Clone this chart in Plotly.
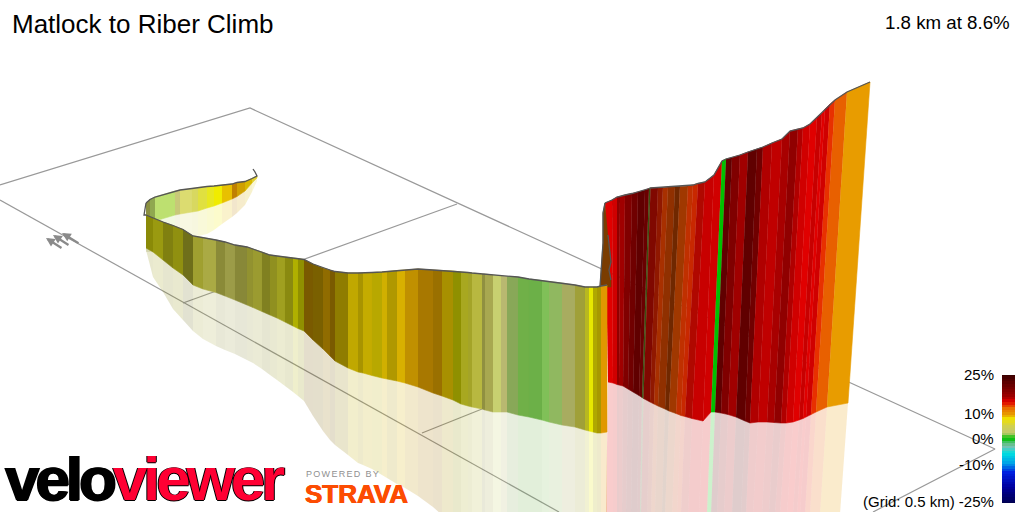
import plotly.graph_objects as go

TITLE = "Matlock to Riber Climb"
SUMMARY = "1.8 km at 8.6%"

# far section of the climb
a_x = [146,150,155,175,180,192,198,207,214,222,232,237,245,252,257]
a_top = [203,199.5,197,191,190,188.5,187.5,186.5,186,185,184,182.5,181.5,178.5,176]
a_base = [222,222,221,215,214,212,211,208,206,203,199,196.5,191,183,178]
a_ref = [252,252,250,241,240,238,236,234,230,224,217,213,205,192,181]
a_col = ["#8a9040","#90a850","#bde070","#c8c878","#dcdc70","#d8d860","#e0e040","#e8e820",
         "#f0ec00","#e8c000","#c08000","#d0a000","#d8b800","#e0d030"]
spur_x = [253,255,257]
spur_y = [169,172,176]

# near section
b_x = [146,153,163,173,183,193,203,216,225,235,247,253,262,270,277,285,293,298,304,313,323,330,335,348,358,363,372,382,387,397,405,418,433,442,453,461,468,472,482,485,493,501,507,518,529,542,549,562,575,585,589,593,597,601,607]
b_top = [215,218,222,225.5,229.5,236,237.5,240,242,245,247,249,252,255,256,257,258,258.5,259.5,264,268,270,271.5,273,273,273,272.5,272,271.5,270.5,270,269,270,270.5,271,272,272.5,273,274,274,275,276,276.5,277,279,280.5,281.5,283,285,287,287,287,287,286,285]
b_base = [248,252,260,268,275,285,289,292.5,296,300,305,307.5,311.5,315,318,322,326,328.5,331,340,349,356,361,368,372,373,375.5,378,379,381,383,387,393,396,400,404,406,407,409,410,412,412,412,415,417,420,422,425,427,430,431,432,433,433,432]
b_ref = [250,277,292,309,320,331,339,346,350,354,360,363,369,375,380,386,392,396,401,416,431,440,445,455,463,465,469,475,478,484,488,496,507,515,525,530,530,530,530,530,530,530,530,530,530,530,530,530,530,530,530,530,530,530,530]
b_col = ["#8a8a08","#9a9a10","#808010","#909010","#6f6f1a","#a0a030","#aaaa44","#8a8a38","#9c9c48","#888838",
         "#929230","#9b9b30","#808020","#909020","#a0a020","#8a8a10","#b0b000","#909000","#7a5a00","#7a6000",
         "#906c00","#7a5a00","#8f7c00","#c0a800","#a89400","#c4ac00","#b8a800","#d0b000","#b09800","#d8b000",
         "#c09000","#a87800","#9a7000","#a89000","#8f9000","#a8a820","#a4a428","#b8b840","#909040","#a8a850",
         "#c8d070","#b8b870","#88a858","#70b048","#6cb048","#80c058","#90b860","#a8ac60","#a0a038","#b8b820",
         "#e8e800","#b0a800","#a89800","#e09800"]

# steep section
c_x_top = [605,612,617,620,625,632,638,645,649,650.5,658,663,668,675,680,688,693,698,705,714,722,726,732,740,748,757,763,772,782,790,798,803,810,817,822,825,830,835,847,870]
c_top = [203,200,197,196.5,195,193.5,192,190,188.5,188,187.5,187.5,187,186.5,186.5,186,185,183.5,182,175,161,159,157.5,155,152,149,147,143,139,131,129,128,124,117,113,109,104,100,92,82]
c_x_base = [608,613,617,619,623,628,633,639,642,643.5,650,654,658,665,669,676,681,685,692,703,711,715,721,728,736,745,750,758,767,774,781,786,793,799,803,806,811,816,827,848]
c_base = [382,383,384.5,385,386,389,392,395.5,397.5,398.5,402,404,406,409,411,413.5,415.5,416.5,418.5,421,412,412,413,414.5,417,421,423,422,422,422.5,423,423,422,420,418.5,417,414.5,412,407,403]
c_x_ref = [606,613,617,619,622,626,631,637,640,641,647,651,655,662,665,672,677,681,688,699,707,711,717,724,732,741,746,753,762,769,775,780,787,793,797,800,805,810,820,840]
c_col = ["#e00000","#d00000","#900000","#a00000","#800000","#700000","#600000","#6a0000","#3c5010","#800800",
         "#901800","#a83000","#903000","#702800","#a03800","#c03000","#c82800","#b00800","#c80000","#d00000",
         "#00c000","#600000","#800000","#a00000","#600000","#700000","#b00000","#c00000","#a80000","#900000",
         "#b00000","#d00000","#e00000","#c80000","#e00000","#d00000","#e83000","#e86000","#e89c00"]
sliver_x = [605,603,603,600,611,611,609,611,608]
sliver_y = [203,213,243,287,287,280,270,262,235]

# plan grid
grid_x = [[0,250,995,873],[0,559],[183,457],[422,482]]
grid_y = [[185,108,449,512],[200,512],[303,204],[433,409]]

# gradient key
key_ticks = [25,10,0,-10,-25]
key_vals = [-25,-18.5,-13,-9.4,-5.5,-2.7,-1,0.3,2.3,5,8,9.4,12,14.6,16.5,20.5,25]
key_cols = ["#000050","#0000a0","#0020e0","#00a0e8","#00e0e0","#80c0b0","#40c060","#00c000","#c0c870",
            "#d0d050","#f0e000","#e8a000","#e87000","#e00000","#a00000","#700000","#3a0000"]
key_steps = list(range(-25,26))

fig = go.Figure()

def poly(xs, ys, color, opacity=1.0, seam=True):
    fig.add_trace(go.Scatter(x=xs, y=ys, mode="lines", fill="toself", fillcolor=color, opacity=opacity,
                             line=dict(color=color, width=0.6 if seam else 0), hoverinfo="skip", showlegend=False))

for gx, gy in zip(grid_x, grid_y):
    fig.add_trace(go.Scatter(x=gx, y=gy, mode="lines", line=dict(color="#999999", width=1.2),
                             hoverinfo="skip", showlegend=False))

def wall(xt, yt, xb, yb, xr, yr, cols):
    for i, c in enumerate(cols):
        poly([xb[i],xb[i+1],xr[i+1],xr[i]], [yb[i],yb[i+1],yr[i+1],yr[i]], c, 0.2, False)
    for i, c in enumerate(cols):
        poly([xt[i],xt[i+1],xb[i+1],xb[i]], [yt[i],yt[i+1],yb[i+1],yb[i]], c)

def outline(xs, ys):
    fig.add_trace(go.Scatter(x=xs, y=ys, mode="lines", line=dict(color="#555555", width=1.3),
                             hoverinfo="skip", showlegend=False))

wall(a_x, a_top, a_x, a_base, a_x, a_ref, a_col)
outline(a_x + spur_x[::-1], a_top + spur_y[::-1])
wall(c_x_top, c_top, c_x_base, c_base, c_x_ref, [514]*len(c_x_ref), c_col)
poly(sliver_x, sliver_y, "#7a3c00")
outline(c_x_top, c_top)
outline(sliver_x[:4], sliver_y[:4])
outline(sliver_x[5:], sliver_y[5:])
wall(b_x, b_top, b_x, b_base, b_x, b_ref, b_col)
outline(b_x, b_top)
outline([146,144,146], [203,215,215])

# gradient key as a heatmap on its own axes
span = key_vals[-1] - key_vals[0]
fig.add_trace(go.Heatmap(x=[0], y=key_steps, z=[[v] for v in key_steps], xaxis="x2", yaxis="y2",
                         colorscale=[[(v-key_vals[0])/span, c] for v, c in zip(key_vals, key_cols)],
                         zmin=-25, zmax=25, showscale=False, hoverinfo="skip"))

ann = []
def text(x, y, s, size, color="#000000", anchor="left", family="Liberation Sans", weight=None, shadow=None):
    f = dict(family=family, size=size, color=color)
    if weight: f["weight"] = weight
    if shadow: f["shadow"] = shadow
    ann.append(dict(x=x, y=y, xref="x", yref="y", text=s, showarrow=False, xanchor=anchor, yanchor="middle",
                    font=f, borderpad=0))

text(11, 24, TITLE, 26)
text(1011, 22, SUMMARY, 18.7, anchor="right")
for t, y in zip(key_ticks, [374, 413, 438, 464, 501]):
    label = f"{t}%"
    if t == -25:
        label = "(Grid: 0.5 km) -25%"
    text(995, y, label, 15, anchor="right")

logo_shadow = "1px 0 0 currentColor, -1px 0 0 currentColor, 0 0.7px 0 currentColor"
text(4, 478,
     '<span style="color:#000000;letter-spacing:-4.1px">velo</span>'
     '<span style="color:#ff0033;letter-spacing:-4.1px">viewer</span>',
     62, weight=700, shadow=logo_shadow)
text(305, 474, '<span style="letter-spacing:1.3px">POWERED BY</span>', 9, "#909090")
text(304, 494, "STRAVA", 26, "#fc4c02", weight=700, shadow="0.5px 0 0 #fc4c02, -0.5px 0 0 #fc4c02")

for (x0,y0,x1,y1) in [(46,238,63,249),(53,235,70,246),(62,233,80,244)]:
    ann.append(dict(x=x0, y=y0, ax=x1, ay=y1, xref="x", yref="y", axref="x", ayref="y", text="",
                    showarrow=True, arrowhead=2, arrowsize=0.8, arrowwidth=2.2, arrowcolor="#8a8a8a"))

fig.update_layout(width=1024, height=512, autosize=False, margin=dict(l=0,r=0,t=0,b=0),
    paper_bgcolor="#ffffff", plot_bgcolor="#ffffff", showlegend=False, annotations=ann,
    xaxis=dict(range=[0,1024], visible=False, fixedrange=True),
    yaxis=dict(range=[512,0], visible=False, fixedrange=True),
    xaxis2=dict(domain=[1002/1024,1015/1024], anchor="y2", visible=False, fixedrange=True),
    yaxis2=dict(domain=[9/512,137/512], anchor="x2", range=[-25,25], visible=False, fixedrange=True))

fig.write_html("out.html", config=dict(displayModeBar=False),
    post_script="document.body.style.margin='0';document.body.style.overflow='hidden';")
